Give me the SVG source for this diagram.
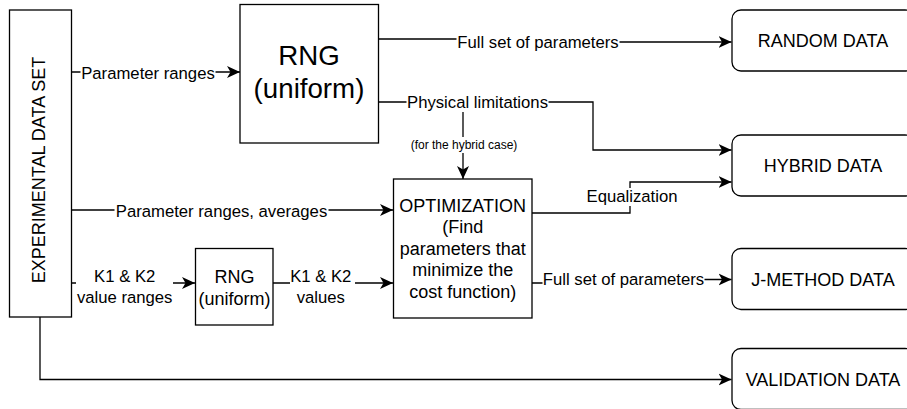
<svg xmlns="http://www.w3.org/2000/svg" width="907" height="409" viewBox="0 0 907 409">
<defs>
<style>
text{font-family:"Liberation Sans",Arial,Helvetica,sans-serif;fill:#000;text-anchor:middle}
.box{fill:#fff;stroke:#000;stroke-width:1.3}
.n{font-size:18px}
.big{font-size:27.7px}
.e{font-size:16.7px}
.s{font-size:12px}
.ln{fill:none;stroke:#000;stroke-width:1.3}
.arr{marker-end:url(#ah)}
.bg{fill:#fff;stroke:none}
</style>
<marker id="ah" markerUnits="userSpaceOnUse" markerWidth="14" markerHeight="13" refX="13" refY="6.5" orient="auto">
<path d="M0,0.5 L13,6.5 L0,12.5 L3.5,6.5 Z" fill="#000"/>
</marker>
</defs>
<rect width="907" height="409" fill="#fff"/>

<g id="connectors">
<path class="ln arr" d="M71,72 H240"/>
<path class="ln arr" d="M378,39 H538 V42 H731.5"/>
<path class="ln arr" d="M378,102 H593 V150 H731.5"/>
<path class="ln arr" d="M463,102 V179"/>
<path class="ln arr" d="M71,210 H393"/>
<path class="ln arr" d="M71,283 H195"/>
<path class="ln arr" d="M273,283 H393"/>
<path class="ln arr" d="M532,213 H630 V182 H731.5"/>
<path class="ln arr" d="M532,283 H623 V279.5 H731.5"/>
<path class="ln arr" d="M40,317 V379.5 H731.5"/>

<g id="lbl-param-ranges"><rect class="bg" x="80.5" y="62" width="135" height="20"/><text class="e" x="148" y="78.5">Parameter ranges</text></g>
<g id="lbl-full-set-1"><rect class="bg" x="456.5" y="32" width="163" height="20"/><text class="e" x="538" y="48">Full set of parameters</text></g>
<g id="lbl-physical"><rect class="bg" x="406.5" y="92" width="142" height="20"/><text class="e" x="477.5" y="108">Physical limitations</text></g>
<g id="lbl-hybrid-case"><rect class="bg" x="409" y="137" width="110" height="16"/><text class="s" x="464" y="149">(for the hybrid case)</text></g>
<g id="lbl-param-avg"><rect class="bg" x="114.5" y="200" width="214" height="20"/><text class="e" x="221.5" y="216.5">Parameter ranges, averages</text></g>
<g id="lbl-k-ranges"><rect class="bg" x="76" y="264" width="97" height="44"/><text class="e" x="124.7" y="282.3">K1 &amp; K2</text><text class="e" x="124.7" y="302.8">value ranges</text></g>
<g id="lbl-k-values"><rect class="bg" x="290" y="264" width="65" height="44"/><text class="e" x="320.8" y="282.3">K1 &amp; K2</text><text class="e" x="320.8" y="302.8">values</text></g>
<g id="lbl-equal"><rect class="bg" x="586" y="188" width="93" height="18"/><text class="e" x="632" y="202.3">Equalization</text></g>
<g id="lbl-full-set-2"><rect class="bg" x="542.5" y="270" width="162" height="20"/><text class="e" x="623.5" y="285">Full set of parameters</text></g>
</g>

<g id="experimental">
<rect class="box" x="9.5" y="10" width="62" height="307"/>
<text class="n" transform="translate(45.3,170) rotate(-90)">EXPERIMENTAL DATA SET</text>
</g>

<g id="rng-main">
<rect class="box" x="240" y="4.5" width="138.5" height="138.5"/>
<text class="big" x="309" y="65">RNG</text>
<text class="big" x="309" y="98.2">(uniform)</text>
</g>

<g id="rng-k">
<rect class="box" x="195.5" y="248.5" width="77.5" height="76.5"/>
<text class="n" x="234.4" y="283">RNG</text>
<text class="n" x="234.4" y="304.6">(uniform)</text>
</g>

<g id="optimization">
<rect class="box" x="393.5" y="179" width="138.5" height="139"/>
<text class="n" x="462.7" y="211.5">OPTIMIZATION</text>
<text class="n" x="462.7" y="233.1">(Find</text>
<text class="n" x="462.7" y="254.7">parameters that</text>
<text class="n" x="462.7" y="276.3">minimize the</text>
<text class="n" x="462.7" y="297.9">cost function)</text>
</g>

<g id="random-data">
<rect class="box" x="732" y="10" width="182" height="61" rx="9"/>
<text class="n" x="823" y="47">RANDOM DATA</text>
</g>

<g id="hybrid-data">
<rect class="box" x="732" y="135" width="182" height="61" rx="9"/>
<text class="n" x="823" y="171.7">HYBRID DATA</text>
</g>

<g id="jmethod-data">
<rect class="box" x="732" y="248.5" width="182" height="61" rx="9"/>
<text class="n" x="823" y="286">J-METHOD DATA</text>
</g>

<g id="validation-data">
<rect class="box" x="732" y="348.5" width="182" height="61" rx="9"/>
<text class="n" x="823" y="386">VALIDATION DATA</text>
</g>
</svg>
